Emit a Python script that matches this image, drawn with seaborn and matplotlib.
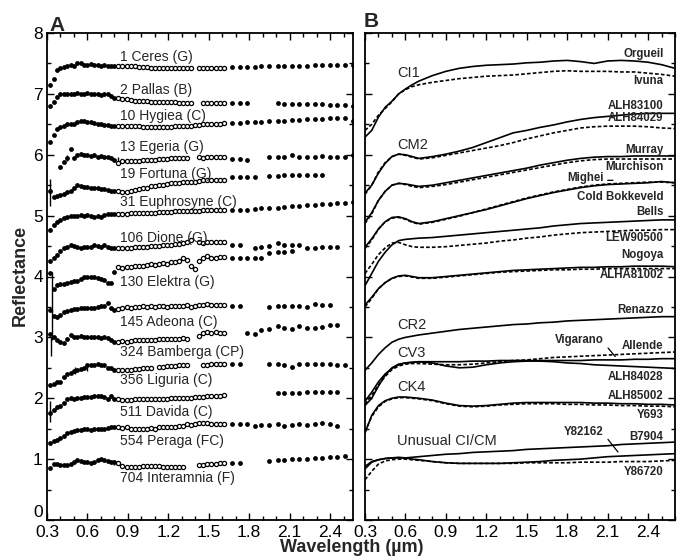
import numpy as np
import pandas as pd
import matplotlib
matplotlib.use("Agg")
import matplotlib.pyplot as plt
from matplotlib import font_manager
from matplotlib.ticker import MultipleLocator
import seaborn as sns

nan = np.nan

# --- panel A: asteroid spectra (reflectance, offset) ---
# wavelength grids (um): visible points, dense near-IR run, 52-colour points
vis_wl = [0.325, 0.35, 0.375, 0.40, 0.425, 0.45, 0.475, 0.50, 0.525, 0.55,
          0.575, 0.60, 0.625, 0.65, 0.675, 0.70, 0.725, 0.75, 0.775, 0.80]
nir_wl = [0.83, 0.86, 0.89, 0.92, 0.95, 0.98, 1.01, 1.04, 1.07, 1.10, 1.13, 1.16, 1.19, 1.22,
          1.25, 1.28, 1.31, 1.34, 1.37, 1.40, 1.43, 1.46, 1.49, 1.52, 1.55, 1.58, 1.61]
ir_wl = [1.67, 1.73, 1.78, 1.84, 1.89, 1.95, 2.01, 2.06, 2.12, 2.17, 2.23, 2.29, 2.34,
         2.40, 2.45, 2.51, 2.57]

ceres_vis = [7.15, 7.25, 7.40, 7.43, 7.44, 7.45, 7.47, 7.46, 7.50, 7.51,
             7.48, 7.47, 7.49, 7.47, 7.48, 7.46, 7.47, 7.45, 7.46, 7.45]
ceres_nir = [7.46, 7.46, 7.45, 7.45, 7.45, 7.44, 7.44, 7.44, 7.43, 7.43, 7.43, 7.42, 7.42, 7.42,
             7.42, 7.42, 7.42, 7.42, 7.42, nan, 7.43, 7.43, 7.43, 7.43, 7.43, 7.43, 7.43]
ceres_ir = [7.44, 7.44, 7.44, 7.44, 7.45, 7.45, 7.45, 7.46, 7.46, 7.46, 7.46, 7.47, 7.47,
            7.47, 7.48, 7.48, 7.48]

pallas_vis = [6.80, 6.86, 6.95, 6.99, 7.00, 6.99, 7.00, 7.00, 7.01, 7.00,
              7.00, 7.01, 7.00, 6.99, 7.00, 6.98, 7.00, 6.99, 6.96, 6.93]
pallas_nir = [6.93, 6.92, 6.91, 6.90, 6.89, 6.89, 6.88, 6.88, 6.87, 6.87, 6.87, 6.86, 6.86, 6.86,
              6.86, 6.85, 6.85, 6.85, 6.85, nan, nan, 6.85, 6.85, 6.85, 6.85, 6.85, 6.85]
pallas_ir = [6.85, 6.85, 6.85, nan, nan, nan, 6.85, 6.84, 6.84, 6.84, 6.83, 6.83, 6.83,
             6.82, 6.82, 6.81, 6.80]

hygiea_vis = [6.21, 6.32, 6.42, 6.46, 6.48, 6.50, 6.51, 6.51, 6.53, 6.55,
              6.56, 6.54, 6.53, 6.52, 6.51, 6.50, 6.49, 6.49, 6.48, 6.48]
hygiea_nir = [6.48, 6.48, 6.47, 6.47, 6.47, 6.47, 6.46, 6.46, 6.46, 6.46, 6.46, 6.46, 6.46, 6.46,
              6.47, 6.47, 6.47, 6.48, 6.48, 6.49, 6.49, 6.50, 6.50, 6.50, 6.51, 6.51, 6.52]
hygiea_ir = [6.52, 6.52, 6.53, 6.54, 6.54, 6.55, 6.55, 6.56, 6.57, 6.57, 6.58, 6.58, 6.59,
             6.60, 6.60, 6.61, 6.55]

egeria_vis = [nan, nan, nan, 5.80, 5.88, 5.95, 6.10, 5.95, 6.00, 6.02,
              6.00, 5.99, 5.98, 6.00, 5.97, 5.98, 5.96, 5.97, 5.94, 5.92]
egeria_nir = [5.87, 5.89, 5.89, 5.90, 5.90, 5.90, 5.91, 5.91, 5.92, 5.92, 5.93, 5.93, 5.93, 5.94,
              5.94, 5.95, 5.94, 5.94, nan, nan, 5.96, 5.95, 5.96, 5.96, 5.97, 5.97, 5.97]
egeria_ir = [5.93, 5.93, 5.92, nan, nan, 5.96, 5.97, 5.97, 6.00, 5.97, 5.97, 5.97, 5.98,
             5.96, 5.97, 5.97, 5.99]

fortuna_vis = [5.40, 5.30, 5.32, 5.34, 5.36, 5.38, 5.40, 5.45, 5.50, 5.49,
               5.47, 5.47, 5.46, 5.45, 5.45, 5.44, 5.43, 5.42, 5.41, 5.40]
fortuna_nir = [5.40, 5.38, 5.39, 5.40, 5.42, 5.43, 5.45, 5.46, 5.48, 5.49, 5.50, 5.51, 5.52, 5.53,
               5.53, 5.54, 5.55, 5.55, 5.55, 5.56, 5.57, 5.58, 5.58, 5.58, 5.58, 5.58, 5.58]
fortuna_ir = [5.63, 5.63, 5.63, 5.63, nan, 5.65, 5.65, 5.66, 5.66, 5.66, 5.66, 5.67, 5.67,
              nan, nan, nan, nan]

euphrosyne_vis = [4.77, 4.85, 4.90, 4.93, 4.96, 4.98, 4.99, 5.00, 4.99, 5.01,
                  5.00, 5.01, 5.00, 4.98, 4.99, 4.98, 5.01, 5.02, 5.03, 5.03]
euphrosyne_nir = [5.03, 5.03, 5.03, 5.04, 5.04, 5.04, 5.05, 5.05, 5.05, 5.05, 5.06, 5.06, 5.06,
                  5.06, 5.07, 5.07, 5.07, 5.08, 5.08, 5.08, 5.08, 5.09, 5.09, 5.09, 5.10, 5.10, 5.10]
euphrosyne_ir = [5.09, 5.10, 5.10, 5.11, 5.12, 5.12, 5.13, 5.14, 5.15, 5.16, 5.17, 5.18, 5.19,
                 5.19, 5.20, 5.21, 5.22]

dione_vis = [4.25, 4.30, 4.35, 4.42, 4.46, 4.49, 4.52, 4.50, 4.48, 4.47,
             4.48, 4.49, 4.49, 4.51, 4.50, 4.49, 4.52, 4.49, 4.47, 4.47]
dione_nir = [4.47, 4.46, 4.46, 4.47, 4.48, 4.49, 4.49, 4.49, 4.50, 4.50, 4.50, 4.51, 4.51, 4.52,
             4.53, 4.54, 4.55, 4.57, 4.60, nan, 4.56, 4.55, 4.56, 4.57, 4.56, 4.57, 4.56]
dione_ir = [4.52, 4.52, nan, 4.47, 4.48, 4.50, 4.55, 4.51, 4.52, 4.52, 4.47, 4.47, 4.48,
            4.49, 4.49, nan, nan]

elektra_vis = [4.05, 3.80, 3.86, 3.87, 3.88, 3.90, 3.91, 3.92, 3.93, 3.96,
               3.99, 4.00, 4.00, 3.99, 3.98, 3.96, 3.95, 3.90, 3.89, 4.07]
elektra_nir = [4.15, 4.14, 4.16, 4.15, 4.17, 4.18, 4.17, 4.19, 4.20, 4.19, 4.21, 4.22, 4.20, 4.24,
               4.23, 4.26, 4.30, 4.27, 4.18, 4.13, 4.26, 4.30, 4.33, 4.31, 4.31, 4.32, 4.32]
elektra_ir = [4.30, 4.30, 4.30, 4.30, 4.31, 4.38, 4.40, 4.41, 4.42, nan, nan, nan, nan,
              nan, nan, nan, nan]

adeona_vis = [3.45, 3.35, 3.33, 3.37, 3.41, 3.44, 3.45, 3.46, 3.47, 3.48,
              3.48, 3.49, 3.49, 3.48, 3.50, 3.51, 3.52, 3.56, 3.48, 3.45]
adeona_nir = [3.47, 3.49, 3.50, 3.49, 3.50, 3.50, 3.51, 3.50, 3.51, 3.50, 3.52, 3.51, 3.50, 3.52,
              3.52, 3.51, 3.52, 3.53, 3.50, 3.51, 3.54, 3.53, 3.55, 3.54, 3.53, 3.54, 3.53]
adeona_ir = [3.52, 3.52, nan, nan, nan, 3.50, 3.51, 3.52, 3.52, 3.52, 3.50, 3.55, 3.54,
             3.54, nan, nan, nan]

bamberga_vis = [3.05, 3.00, 2.95, 2.92, 2.90, 2.98, 3.04, 3.00, 3.01, 3.02,
                3.01, 3.00, 3.01, 3.00, 3.01, 2.99, 3.00, 2.99, 2.95, 2.93]
bamberga_nir = [2.93, 2.94, 2.93, 2.94, 2.95, 2.95, 2.96, 2.96, 2.96, 2.96, 2.97, 2.97, 2.97, 2.98,
                2.98, 2.98, 2.99, 2.98, nan, nan, 3.03, 3.07, 3.09, 3.08, 3.09, 3.08, 3.07]
bamberga_ir = [nan, nan, 3.08, 3.06, 3.12, 3.14, 3.18, 3.16, 3.14, 3.18, 3.15, 3.16, 3.17,
               3.20, 3.21, nan, nan]

liguria_vis = [2.22, 2.24, 2.26, 2.27, 2.35, 2.40, 2.42, 2.45, 2.46, 2.48,
               2.50, 2.54, 2.55, 2.55, 2.56, 2.55, 2.54, 2.50, 2.49, 2.47]
liguria_nir = [2.47, 2.46, 2.47, 2.47, 2.48, 2.48, 2.49, 2.50, 2.50, nan, 2.52, 2.52, 2.53, 2.53,
               2.53, 2.54, 2.54, 2.54, nan, nan, nan, 2.55, 2.55, 2.56, 2.56, 2.56, 2.57]
liguria_ir = [2.56, 2.56, nan, nan, nan, 2.56, 2.56, 2.55, 2.52, 2.56, 2.56, 2.57, 2.57,
              2.57, 2.55, 2.54, nan]

davida_vis = [1.76, 1.80, 1.86, 1.88, 1.92, 1.98, 2.01, 1.99, 2.00, 2.01,
              2.02, 2.02, 2.02, 2.03, 2.04, 2.03, 2.02, 1.99, 2.04, 1.98]
davida_nir = [1.98, 1.97, 1.97, 1.97, 1.98, 1.98, 1.98, 1.98, 1.98, 1.99, 1.99, 1.99, 1.99, 2.00,
              2.00, 2.00, 2.01, 2.01, 2.01, 2.02, 2.02, 2.02, 2.03, 2.03, 2.04, 2.04, 2.05]
davida_ir = [nan, nan, nan, nan, nan, nan, 2.09, 2.09, 2.09, 2.09, 2.10, 2.10, 2.10,
             2.10, 2.10, nan, nan]

peraga_vis = [1.26, 1.29, 1.31, 1.34, 1.38, 1.43, 1.45, 1.47, 1.48, 1.48,
              1.49, 1.49, 1.48, 1.49, 1.50, 1.49, 1.50, 1.51, 1.52, 1.53]
peraga_nir = [1.52, 1.51, 1.52, 1.50, 1.50, 1.49, 1.50, 1.50, 1.51, 1.50, 1.52, 1.53, 1.52, 1.53,
              1.53, 1.54, 1.55, 1.57, 1.56, 1.58, 1.60, 1.59, 1.59, 1.58, 1.58, 1.57, 1.58]
peraga_ir = [1.58, 1.58, 1.58, 1.55, 1.56, 1.56, 1.57, 1.55, 1.56, 1.57, 1.56, 1.57, 1.60,
             1.57, 1.55, nan, nan]

interamnia_vis = [0.85, 0.92, 0.92, 0.91, 0.90, 0.91, 0.92, 0.95, 0.98, 0.97,
                  0.96, 0.95, 0.94, 0.95, 0.98, 1.00, 0.99, 0.97, 0.96, 0.95]
interamnia_nir = [0.93, 0.89, 0.87, 0.87, 0.87, 0.87, 0.88, 0.88, 0.88, 0.88, 0.88, 0.87, 0.87,
                  0.87, 0.87, 0.87, 0.87, nan, nan, nan, 0.90, 0.91, 0.92, 0.92, 0.92, 0.93, 0.93]
interamnia_ir = [0.94, 0.94, nan, nan, nan, 0.97, 0.99, 0.99, 1.00, 1.01, 1.01, 1.02, 1.02,
                 1.03, 1.03, 1.05, nan]

asteroid_names = ["1 Ceres (G)", "2 Pallas (B)", "10 Hygiea (C)", "13 Egeria (G)",
                  "19 Fortuna (G)", "31 Euphrosyne (C)", "106 Dione (G)", "130 Elektra (G)",
                  "145 Adeona (C)", "324 Bamberga (CP)", "356 Liguria (C)", "511 Davida (C)",
                  "554 Peraga (FC)", "704 Interamnia (F)"]
asteroid_label_y = [7.61, 7.07, 6.63, 6.13, 5.69, 5.23, 4.64, 3.91, 3.26, 2.76, 2.30,
                    1.78, 1.29, 0.69]
vis_sets = [ceres_vis, pallas_vis, hygiea_vis, egeria_vis, fortuna_vis, euphrosyne_vis,
            dione_vis, elektra_vis, adeona_vis, bamberga_vis, liguria_vis, davida_vis,
            peraga_vis, interamnia_vis]
nir_sets = [ceres_nir, pallas_nir, hygiea_nir, egeria_nir, fortuna_nir, euphrosyne_nir,
            dione_nir, elektra_nir, adeona_nir, bamberga_nir, liguria_nir, davida_nir,
            peraga_nir, interamnia_nir]
ir_sets = [ceres_ir, pallas_ir, hygiea_ir, egeria_ir, fortuna_ir, euphrosyne_ir,
           dione_ir, elektra_ir, adeona_ir, bamberga_ir, liguria_ir, davida_ir,
           peraga_ir, interamnia_ir]

# error bars on a few points (wavelength, reflectance, half-length)
err_wl = [0.325, 0.335, 0.335, 0.33, 0.325, 0.45, 0.83, 0.51, 0.80, 0.60]
err_refl = [5.38, 3.75, 3.20, 2.85, 1.78, 5.94, 5.90, 2.46, 0.95, 2.49]
err_size = [0.22, 0.33, 0.25, 0.15, 0.17, 0.05, 0.07, 0.06, 0.04, 0.05]

# --- panel B: meteorite spectra ---
lab_wl = [0.30, 0.35, 0.40, 0.45, 0.50, 0.55, 0.60, 0.65, 0.70, 0.80, 0.90, 1.00, 1.10, 1.20,
          1.30, 1.40, 1.50, 1.60, 1.70, 1.80, 1.90, 2.00, 2.10, 2.20, 2.30, 2.40, 2.50, 2.60]

orgueil = [6.29, 6.40, 6.62, 6.78, 6.88, 7.00, 7.08, 7.15, 7.21, 7.30, 7.37, 7.42, 7.45, 7.47,
           7.48, 7.49, 7.51, 7.52, 7.54, 7.55, 7.53, 7.50, 7.54, 7.55, 7.54, 7.52, 7.48, 7.42]
ivuna = [6.40, 6.50, 6.65, 6.76, 6.87, 7.00, 7.07, 7.12, 7.15, 7.19, 7.22, 7.25, 7.27, 7.29,
         7.30, 7.31, 7.33, 7.35, 7.37, 7.38, 7.37, 7.37, 7.37, 7.36, 7.36, 7.34, 7.32, 7.29]
alh83100 = [5.37, 5.50, 5.70, 5.86, 5.97, 6.01, 6.00, 5.97, 5.94, 5.97, 6.01, 6.06, 6.12, 6.20,
            6.28, 6.36, 6.40, 6.45, 6.49, 6.54, 6.58, 6.61, 6.63, 6.65, 6.67, 6.68, 6.68, 6.68]
alh84029 = [5.35, 5.50, 5.72, 5.87, 5.97, 6.01, 5.99, 5.96, 5.93, 5.95, 5.99, 6.03, 6.07, 6.11,
            6.15, 6.20, 6.26, 6.31, 6.36, 6.40, 6.44, 6.46, 6.47, 6.47, 6.47, 6.46, 6.44, 6.43]
murray = [4.89, 5.05, 5.25, 5.40, 5.50, 5.53, 5.52, 5.50, 5.48, 5.50, 5.54, 5.58, 5.62, 5.66,
          5.70, 5.74, 5.78, 5.83, 5.87, 5.91, 5.94, 5.96, 5.97, 5.97, 5.98, 5.98, 5.98, 5.98]
murchison = [4.87, 5.03, 5.25, 5.40, 5.50, 5.53, 5.51, 5.48, 5.46, 5.48, 5.51, 5.55, 5.59, 5.63,
             5.67, 5.71, 5.75, 5.79, 5.83, 5.87, 5.90, 5.92, 5.93, 5.93, 5.93, 5.93, 5.93, 5.93]
mighei = [4.48, 4.62, 4.78, 4.90, 4.97, 4.98, 4.95, 4.90, 4.87, 4.90, 4.95, 5.00, 5.05, 5.10,
          5.16, 5.22, 5.28, 5.33, 5.38, 5.42, 5.46, 5.49, 5.51, 5.52, 5.53, 5.54, 5.56, 5.54]
cold_bokkeveld = [4.46, 4.60, 4.78, 4.90, 4.96, 4.97, 4.94, 4.89, 4.86, 4.89, 4.94, 4.99, 5.05,
                  5.11, 5.17, 5.23, 5.29, 5.34, 5.39, 5.43, 5.47, 5.50, 5.52, 5.53, 5.54, 5.55,
                  5.55, 5.54]
bells = [3.85, 4.05, 4.25, 4.40, 4.52, 4.59, 4.61, 4.62, 4.63, 4.64, 4.66, 4.68, 4.70, 4.72,
         4.74, 4.76, 4.78, 4.80, 4.83, 4.85, 4.87, 4.88, 4.89, 4.90, 4.91, 4.92, 4.93, 4.93]
lew90500 = [4.05, 4.20, 4.36, 4.47, 4.55, 4.56, 4.52, 4.49, 4.48, 4.48, 4.49, 4.51, 4.53, 4.55,
            4.58, 4.60, 4.63, 4.65, 4.68, 4.70, 4.72, 4.73, 4.74, 4.75, 4.76, 4.76, 4.77, 4.77]
nogoya = [3.53, 3.66, 3.80, 3.90, 3.97, 4.01, 4.02, 4.00, 3.98, 3.98, 4.00, 4.02, 4.04, 4.06,
          4.08, 4.10, 4.11, 4.12, 4.13, 4.14, 4.15, 4.15, 4.16, 4.16, 4.17, 4.17, 4.17, 4.16]
alha81002 = [3.50, 3.64, 3.80, 3.90, 3.97, 4.00, 4.01, 3.99, 3.97, 3.97, 3.99, 4.01, 4.03, 4.05,
             4.07, 4.08, 4.09, 4.10, 4.11, 4.11, 4.12, 4.12, 4.13, 4.13, 4.13, 4.13, 4.13, 4.13]
renazzo = [2.46, 2.58, 2.72, 2.83, 2.92, 2.97, 3.00, 3.02, 3.04, 3.07, 3.10, 3.13, 3.15, 3.17,
           3.19, 3.21, 3.22, 3.24, 3.25, 3.27, 3.28, 3.29, 3.30, 3.31, 3.32, 3.33, 3.34, 3.34]
vigarano = [1.95, 2.10, 2.27, 2.40, 2.49, 2.55, 2.58, 2.59, 2.60, 2.60, 2.60, 2.60, 2.61, 2.61,
            2.62, 2.62, 2.62, 2.62, 2.62, 2.62, 2.62, 2.63, 2.63, 2.63, 2.64, 2.64, 2.65, 2.65]
allende = [1.90, 2.05, 2.22, 2.36, 2.47, 2.53, 2.56, 2.57, 2.57, 2.56, 2.55, 2.55, 2.56, 2.58,
           2.60, 2.62, 2.63, 2.65, 2.67, 2.68, 2.69, 2.70, 2.71, 2.72, 2.73, 2.74, 2.75, 2.76]
alh84028 = [1.88, 2.00, 2.20, 2.38, 2.50, 2.56, 2.58, 2.59, 2.60, 2.58, 2.53, 2.50, 2.51, 2.55,
            2.58, 2.60, 2.61, 2.61, 2.60, 2.58, 2.57, 2.55, 2.54, 2.53, 2.52, 2.51, 2.50, 2.49]
alh85002 = [1.43, 1.72, 1.88, 1.96, 2.00, 2.02, 2.02, 2.01, 2.00, 1.97, 1.92, 1.88, 1.87, 1.88,
            1.90, 1.92, 1.93, 1.93, 1.93, 1.93, 1.93, 1.92, 1.92, 1.91, 1.91, 1.90, 1.90, 1.89]
y693 = [1.45, 1.70, 1.86, 1.95, 1.99, 2.01, 2.01, 2.00, 1.99, 1.96, 1.91, 1.87, 1.86, 1.87,
        1.89, 1.90, 1.91, 1.91, 1.91, 1.90, 1.90, 1.89, 1.89, 1.88, 1.88, 1.87, 1.87, 1.86]
b7904 = [0.84, 0.95, 0.99, 1.01, 1.02, 1.02, 1.02, 1.03, 1.04, 1.06, 1.08, 1.09, 1.11, 1.12,
         1.13, 1.14, 1.16, 1.17, 1.18, 1.19, 1.20, 1.21, 1.22, 1.24, 1.25, 1.26, 1.27, 1.28]
y82162 = [0.88, 0.96, 0.99, 1.01, 1.02, 1.03, 1.02, 1.00, 0.99, 0.96, 0.94, 0.93, 0.93, 0.93,
          0.93, 0.94, 0.95, 0.96, 0.98, 0.99, 1.00, 1.02, 1.04, 1.05, 1.06, 1.07, 1.08, 1.09]
y86720 = [0.66, 0.80, 0.92, 0.97, 0.99, 1.00, 1.00, 0.99, 0.98, 0.96, 0.94, 0.93, 0.93, 0.93,
          0.93, 0.93, 0.94, 0.94, 0.94, 0.94, 0.95, 0.95, 0.95, 0.96, 0.96, 0.96, 0.97, 0.98]

meteorite_names = ["Orgueil", "Ivuna", "ALH83100", "ALH84029", "Murray", "Murchison", "Mighei",
                   "Cold Bokkeveld", "Bells", "LEW90500", "Nogoya", "ALHA81002", "Renazzo",
                   "Vigarano", "Allende", "ALH84028", "ALH85002", "Y693", "B7904", "Y82162",
                   "Y86720"]
meteorite_style = ["solid", "dashed", "solid", "dashed", "solid", "dashed", "solid", "dashed",
                   "solid", "dashed", "solid", "dashed", "solid", "solid", "dashed", "solid",
                   "solid", "dashed", "solid", "solid", "dashed"]
meteorite_sets = [orgueil, ivuna, alh83100, alh84029, murray, murchison, mighei, cold_bokkeveld,
                  bells, lew90500, nogoya, alha81002, renazzo, vigarano, allende, alh84028,
                  alh85002, y693, b7904, y82162, y86720]

# right-hand labels in B: (text, x right edge, y)
meteorite_labels = [("Orgueil", 2.515, 7.66), ("Ivuna", 2.515, 7.21), ("ALH83100", 2.515, 6.80),
                    ("ALH84029", 2.515, 6.60), ("Murray", 2.515, 6.08),
                    ("Murchison", 2.515, 5.80), ("Mighei", 2.07, 5.61),
                    ("Cold Bokkeveld", 2.515, 5.31), ("Bells", 2.515, 5.06),
                    ("LEW90500", 2.515, 4.63), ("Nogoya", 2.515, 4.35),
                    ("ALHA81002", 2.515, 4.02), ("Renazzo", 2.515, 3.45),
                    ("Vigarano", 2.07, 2.96), ("Allende", 2.515, 2.86),
                    ("ALH84028", 2.515, 2.35), ("ALH85002", 2.515, 2.04),
                    ("Y693", 2.515, 1.72), ("Y82162", 2.07, 1.45), ("B7904", 2.515, 1.37),
                    ("Y86720", 2.515, 0.79)]
group_names = ["CI1", "CM2", "CR2", "CV3", "CK4", "Unusual CI/CM"]
group_y = [7.35, 6.16, 3.20, 2.74, 2.19, 1.29]

# --- build tables ---
rows = []
for name, v, n, r in zip(asteroid_names, vis_sets, nir_sets, ir_sets):
    for seg, wl, vals in (("vis", vis_wl, v), ("nir", nir_wl, n), ("ir", ir_wl, r)):
        for w, y in zip(wl, vals):
            rows.append((name, seg, w, y))
spec = pd.DataFrame(rows, columns=["asteroid", "segment", "wavelength", "reflectance"]).dropna()

lab_rows = []
for name, style, vals in zip(meteorite_names, meteorite_style, meteorite_sets):
    for w, y in zip(lab_wl, vals):
        lab_rows.append((name, style, w, y))
lab = pd.DataFrame(lab_rows, columns=["meteorite", "style", "wavelength", "reflectance"])

# --- figure ---
sns.set_theme(style="ticks")
plt.rcParams["font.family"] = ["Liberation Sans", "DejaVu Sans"]
names = {f.name for f in font_manager.fontManager.ttflist}
if "Liberation Sans Narrow" in names:
    narrow_family, narrow_size = ["Liberation Sans Narrow", "Liberation Sans"], 9.5
else:
    narrow_family, narrow_size = ["Liberation Sans", "DejaVu Sans"], 8.3

fig = plt.figure(figsize=(6.85, 5.58), dpi=100)
axA = fig.add_axes([47 / 685, 38 / 558, 306 / 685, 487 / 558])
axB = fig.add_axes([365 / 685, 38 / 558, 310 / 685, 487 / 558])

# asteroid points
sns.scatterplot(data=spec[spec.segment != "nir"], x="wavelength", y="reflectance",
                color="black", s=12, linewidth=0, ax=axA, legend=False, zorder=3)
sns.scatterplot(data=spec[spec.segment == "nir"], x="wavelength", y="reflectance",
                color="white", edgecolor="black", s=9, linewidth=0.9, ax=axA,
                legend=False, zorder=3)
axA.errorbar(err_wl, err_refl, yerr=err_size, fmt="none", ecolor="black", elinewidth=1.0,
             capsize=0, zorder=2)
for name, ly in zip(asteroid_names, asteroid_label_y):
    axA.text(0.845, ly, name, fontsize=10, ha="left", va="center")

# meteorite lines
sns.lineplot(data=lab, x="wavelength", y="reflectance", units="meteorite", estimator=None,
             style="style", dashes={"solid": "", "dashed": (2.2, 1.3)}, color="black",
             linewidth=1.2, sort=False, ax=axB, legend=False)
for text, lx, ly in meteorite_labels:
    axB.text(lx, ly, text, fontsize=narrow_size, fontweight="bold", family=narrow_family,
             ha="right", va="center")
for text, gy in zip(group_names, group_y):
    axB.text(0.54, gy, text, fontsize=10.5, ha="left", va="center")

# leader lines for labels sitting off the curves
axB.annotate("", xy=(2.17, 2.65), xytext=(2.09, 2.86),
             arrowprops=dict(arrowstyle="-", color="black", lw=0.9))
axB.annotate("", xy=(2.19, 1.08), xytext=(2.09, 1.36),
             arrowprops=dict(arrowstyle="-", color="black", lw=0.9))
axB.annotate("", xy=(2.16, 5.58), xytext=(2.08, 5.58),
             arrowprops=dict(arrowstyle="-", color="black", lw=0.9))

xticks = [0.3, 0.6, 0.9, 1.2, 1.5, 1.8, 2.1, 2.4]
for ax, xmax in ((axA, 2.57), (axB, 2.6)):
    ax.set_xlim(0.3, xmax)
    ax.set_ylim(0, 8)
    ax.set_xticks(xticks)
    ax.set_xticklabels([f"{t:.1f}" for t in xticks])
    ax.set_yticks(range(0, 9))
    ax.xaxis.set_minor_locator(MultipleLocator(0.1))
    ax.yaxis.set_minor_locator(MultipleLocator(0.5))
    ax.tick_params(which="both", direction="in", top=True, right=True, width=1.0,
                   colors="black", labelsize=12.5)
    ax.tick_params(axis="x", pad=3.5)
    ax.tick_params(axis="y", pad=3)
    ax.tick_params(which="major", length=5)
    ax.tick_params(which="minor", length=3)
    ax.set_xlabel("")
    ax.set_ylabel("")
    for sp in ax.spines.values():
        sp.set_linewidth(1.3)
        sp.set_color("black")
axB.tick_params(labelleft=False)
axA.get_yticklabels()[0].set_verticalalignment("bottom")

fig.text(49 / 685, 1 - 31 / 558, "A", fontsize=15, fontweight="bold", ha="left", va="baseline")
fig.text(364 / 685, 1 - 27 / 558, "B", fontsize=15, fontweight="bold", ha="left", va="baseline")
fig.text(20 / 685, 1 - 275 / 558, "Reflectance", fontsize=13, fontweight="bold",
         rotation=90, ha="center", va="center")
fig.text(352 / 685, 1 - 548 / 558, "Wavelength (\u00b5m)", fontsize=13, fontweight="bold",
         ha="center", va="center")

fig.savefig("out.png", dpi=100)
